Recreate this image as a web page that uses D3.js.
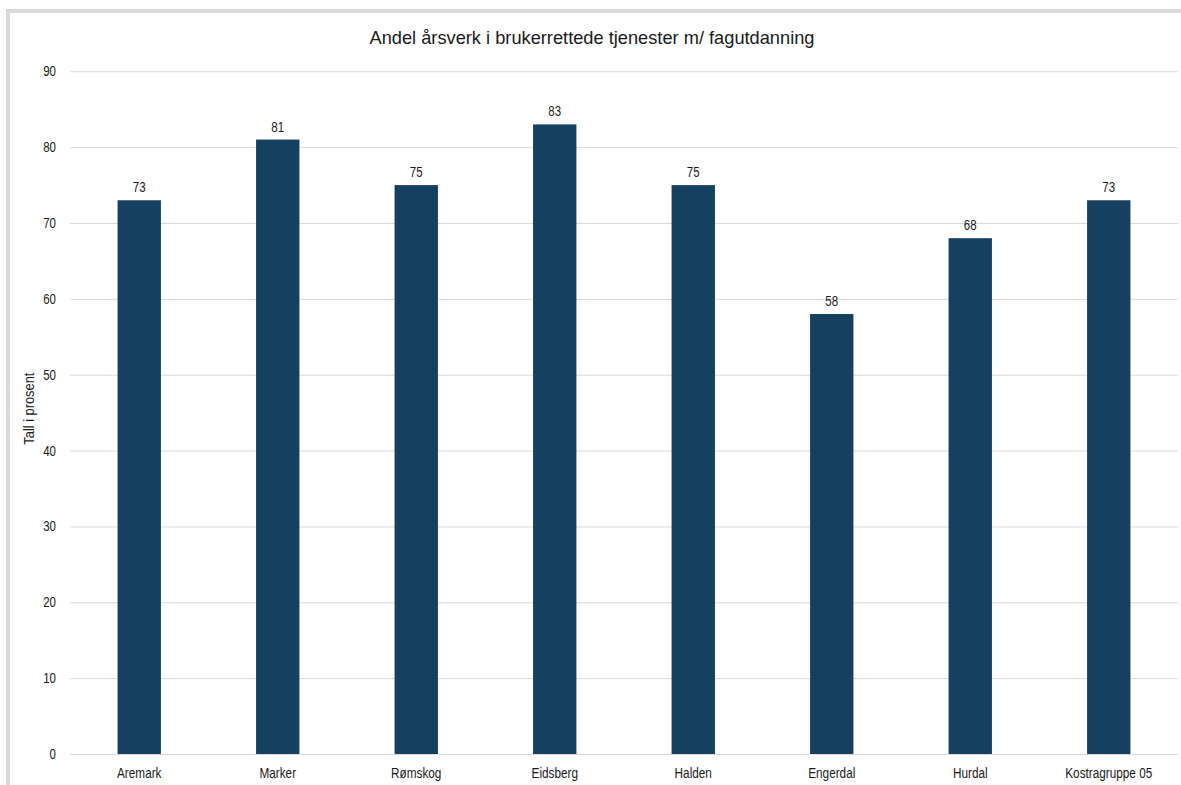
<!DOCTYPE html>
<html>
<head>
<meta charset="utf-8">
<script src="https://cdn.jsdelivr.net/npm/d3@7"></script>
<style>
  html, body { margin: 0; padding: 0; background: #fff; }
  svg { display: block; font-family: "Liberation Sans", Arial, sans-serif; }
</style>
</head>
<body>
<svg id="chart" width="1181" height="785"></svg>
<script>
// Municipalities compared
const categories = ["Aremark", "Marker", "Rømskog", "Eidsberg", "Halden", "Engerdal", "Hurdal", "Kostragruppe 05"];
// Share of man-years with professional education (percent)
const values = [73, 81, 75, 83, 75, 58, 68, 73];
// Y axis ticks
const yTicks = [0, 10, 20, 30, 40, 50, 60, 70, 80, 90];

const titleText = "Andel årsverk i brukerrettede tjenester m/ fagutdanning";
const yTitleText = "Tall i prosent";

const W = 1181, H = 785;
const plot = { left: 70, right: 1178, top: 71.3, bottom: 754 };
const barColor = "#15405f";
const gridColor = "#d9d9d9";
const textColor = "#1a1a1a";

const svg = d3.select("#chart");

// Condense a text element horizontally (narrow typeface look)
function condense(sel, factor) {
  sel.each(function () {
    const w = this.getComputedTextLength();
    d3.select(this).attr("textLength", w * factor).attr("lengthAdjust", "spacingAndGlyphs");
  });
}

// Chart frame, partially cut off at right and bottom
svg.append("rect")
  .attr("x", 8).attr("y", 11)
  .attr("width", W + 20).attr("height", H + 20)
  .attr("fill", "none")
  .attr("stroke", gridColor)
  .attr("stroke-width", 4);

const x = d3.scaleBand()
  .domain(categories)
  .range([plot.left, plot.right])
  .paddingInner(0.687)
  .paddingOuter(0.3435);

const y = d3.scaleLinear()
  .domain([0, 90])
  .range([plot.bottom, plot.top]);

// Horizontal gridlines + tick labels
const yAxis = d3.axisLeft(y)
  .tickValues(yTicks)
  .tickSize(-(plot.right - plot.left))
  .tickPadding(14);

const gy = svg.append("g")
  .attr("transform", `translate(${plot.left},0)`)
  .call(yAxis);
gy.select(".domain").remove();
gy.selectAll(".tick line").attr("stroke", gridColor).attr("stroke-width", 1);
gy.selectAll(".tick text")
  .attr("fill", textColor)
  .style("font-size", "14px")
  .style("font-family", "'Liberation Sans', Arial, sans-serif")
  .call(condense, 0.82);

// Bars
svg.append("g").selectAll("rect")
  .data(values)
  .join("rect")
  .attr("x", (d, i) => x(categories[i]))
  .attr("y", d => y(d))
  .attr("width", x.bandwidth())
  .attr("height", d => y(0) - y(d))
  .attr("fill", barColor);

// Value labels above bars
svg.append("g").selectAll("text")
  .data(values)
  .join("text")
  .attr("x", (d, i) => x(categories[i]) + x.bandwidth() / 2)
  .attr("y", d => y(d) - 8)
  .attr("text-anchor", "middle")
  .attr("fill", textColor)
  .style("font-size", "14px")
  .text(d => d)
  .call(condense, 0.82);

// Category axis labels
const xAxis = d3.axisBottom(x).tickSize(0).tickPadding(14);
const gx = svg.append("g")
  .attr("transform", `translate(0,${plot.bottom})`)
  .call(xAxis);
gx.select(".domain").remove();
gx.selectAll(".tick text")
  .attr("fill", textColor)
  .style("font-size", "14px")
  .style("font-family", "'Liberation Sans', Arial, sans-serif")
  .call(condense, 0.84);

// Title
svg.append("text")
  .attr("x", 592)
  .attr("y", 44)
  .attr("text-anchor", "middle")
  .attr("fill", textColor)
  .style("font-size", "18.5px")
  .attr("textLength", 445)
  .attr("lengthAdjust", "spacingAndGlyphs")
  .text(titleText);

// Y axis title
svg.append("text")
  .attr("transform", `translate(34,${(plot.top + plot.bottom) / 2 - 4}) rotate(-90)`)
  .attr("text-anchor", "middle")
  .attr("fill", textColor)
  .style("font-size", "14px")
  .attr("textLength", 72)
  .attr("lengthAdjust", "spacingAndGlyphs")
  .text(yTitleText);
</script>
</body>
</html>
